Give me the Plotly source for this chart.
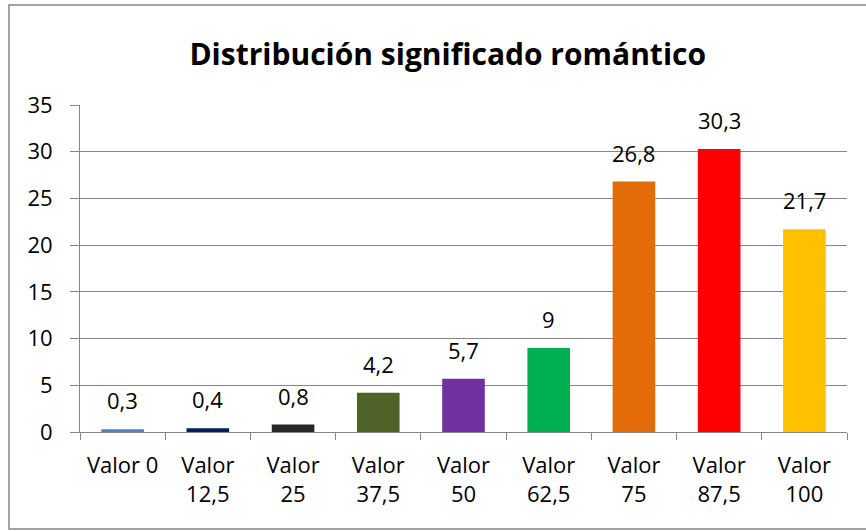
import plotly.graph_objects as go

categories = ["Valor 0", "Valor<br>12,5", "Valor<br>25", "Valor<br>37,5", "Valor<br>50",
              "Valor<br>62,5", "Valor<br>75", "Valor<br>87,5", "Valor<br>100"]
values = [0.3, 0.4, 0.8, 4.2, 5.7, 9, 26.8, 30.3, 21.7]
labels = ["0,3", "0,4", "0,8", "4,2", "5,7", "9", "26,8", "30,3", "21,7"]
colors = ["#4f81bd", "#002060", "#262626", "#4f6228", "#7030a0",
          "#00b050", "#e36c09", "#ff0000", "#ffc000"]
y_ticks = [0, 5, 10, 15, 20, 25, 30, 35]

FONT = "Open Sans"

fig = go.Figure(go.Bar(
    x=categories, y=values, marker=dict(color=colors, line=dict(width=0)),
    hoverinfo="x+y",
))

annotations = [
    dict(x=c, y=v, xref="x", yref="y", text=t, showarrow=False,
         yanchor="bottom", yshift=12,
         font=dict(family=FONT, size=22, color="#000000"))
    for c, v, t in zip(categories, values, labels)
]

fig.update_layout(
    width=866, height=531,
    margin=dict(l=80, r=19, t=105, b=99, autoexpand=False),
    paper_bgcolor="white", plot_bgcolor="white",
    bargap=0.5,
    showlegend=False,
    title=dict(text="<b>Distribución significado romántico</b>",
               x=0.517, xanchor="center", y=0.897, yanchor="middle",
               font=dict(family=FONT, size=30, color="#000000")),
    font=dict(family=FONT, size=22, color="#000000"),
    xaxis=dict(showline=True, linecolor="#868686", linewidth=1,
               ticks="outside", tickson="boundaries", ticklen=7, tickcolor="#868686",
               tickfont=dict(family=FONT, size=22), showgrid=False, automargin=False,
               ticklabelstandoff=14),
    yaxis=dict(range=[0, 35], tickvals=y_ticks, showline=True, linecolor="#868686",
               linewidth=1, ticks="outside", ticklen=9, tickcolor="#868686",
               showgrid=True, gridcolor="#868686", gridwidth=1,
               tickfont=dict(family=FONT, size=22), ticklabelstandoff=13,
               zeroline=False, automargin=False),
    annotations=annotations,
    shapes=[dict(type="rect", xref="paper", yref="paper",
                 x0=-71/767, x1=1 + 30/767, y0=-97/327, y1=1 + 100/327,
                 line=dict(color="#868686", width=1.5), fillcolor="rgba(0,0,0,0)")],
)

fig.write_html("out.html", config={"displayModeBar": False},
               post_script="document.body.style.margin='0px';")
